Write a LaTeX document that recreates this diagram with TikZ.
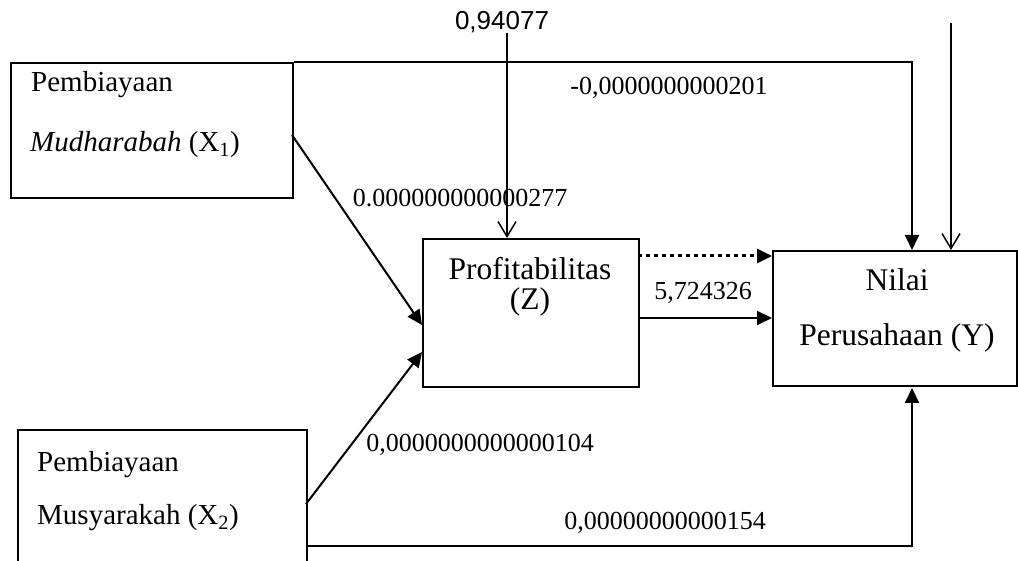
\documentclass[tikz,border=0pt]{standalone}
\usepackage{fontspec}
\setmainfont{Liberation Serif}
\newfontfamily\arialf{Liberation Sans}
\usetikzlibrary{arrows.meta}
\begin{document}
\begin{tikzpicture}[x=1pt,y=-1pt,
  box/.style={draw, line width=1.6pt, inner sep=0pt, anchor=north west},
  btxt/.style={inner sep=0pt, font=\fontsize{29}{34}\selectfont},
  bbtxt/.style={inner sep=0pt, font=\fontsize{31.5}{36}\selectfont},
  lbl/.style={inner sep=0pt, font=\fontsize{26}{30}\selectfont},
  conn/.style={line width=2pt, -{Triangle[length=15pt,width=14pt]}},
  dotconn/.style={line width=3pt, dash pattern=on 4pt off 4pt, -{Triangle[length=15pt,width=14pt]}},
  err/.style={line width=1.5pt, -{Straight Barb[length=15pt,width=18pt]}}
]
\clip (0,0) rectangle (1018,561);
% boxes
\node[box, minimum width=282pt, minimum height=135pt] (X1) at (10,62) {};
\node[box, minimum width=216pt, minimum height=148pt] (Z) at (422,238) {};
\node[box, minimum width=244pt, minimum height=135pt] (Y) at (772,250) {};
\node[box, minimum width=289pt, minimum height=200pt] (X2) at (17,429) {};
% box texts
\node[btxt, anchor=west] (x1t1) at (31,85) {Pembiayaan};
\node[btxt, anchor=west] (x1t2) at (30,145) {\textit{Mudharabah} (X\textsubscript{1})};
\node[bbtxt] (zt1) at (530,269) {Profitabilitas};
\node[bbtxt] (zt2) at (530,302) {(Z)};
\node[bbtxt] (yt1) at (897,280) {Nilai};
\node[bbtxt] (yt2) at (897,338) {Perusahaan (Y)};
\node[btxt, anchor=west] (x2t1) at (37,465) {Pembiayaan};
\node[btxt, anchor=west] (x2t2) at (37,518) {Musyarakah (X\textsubscript{2})};
% labels
\node[lbl, font=\fontsize{26}{30}\arialf] (e1) at (502,22) {0,94077};
\node[lbl] (l1) at (669,88) {-0,0000000000201};
\node[lbl] (l2) at (460,198) {0.000000000000277};
\node[lbl] (l3) at (703,293) {5,724326};
\node[lbl] (l4) at (480,445) {0,0000000000000104};
\node[lbl] (l5) at (665,523) {0,00000000000154};
% coordinates
\coordinate (x1out) at (292,135);
\coordinate (zin1) at (422,325);
\coordinate (x2out) at (306,504);
\coordinate (zin2) at (422,352);
\coordinate (ytop) at (912,250);
\coordinate (ybot) at (912,388);
\coordinate (x2low) at (306,546);
\coordinate (zout1) at (638,256);
\coordinate (yin1) at (772,256);
\coordinate (zout2) at (638,318);
\coordinate (yin2) at (772,318);
\coordinate (e2start) at (951,23);
\coordinate (e2end) at (951,250);
\coordinate (e1start) at (507,33);
\coordinate (e1end) at (507,238);
% connectors
\draw[conn] (X1.north east) -| (ytop);
\draw[conn] (x1out) -- (zin1);
\draw[conn] (x2out) -- (zin2);
\draw[dotconn] (zout1) -- (yin1);
\draw[conn] (zout2) -- (yin2);
\draw[conn] (x2low) -| (ybot);
\draw[err] (e1start) -- (e1end);
\draw[err] (e2start) -- (e2end);
\end{tikzpicture}
\end{document}
